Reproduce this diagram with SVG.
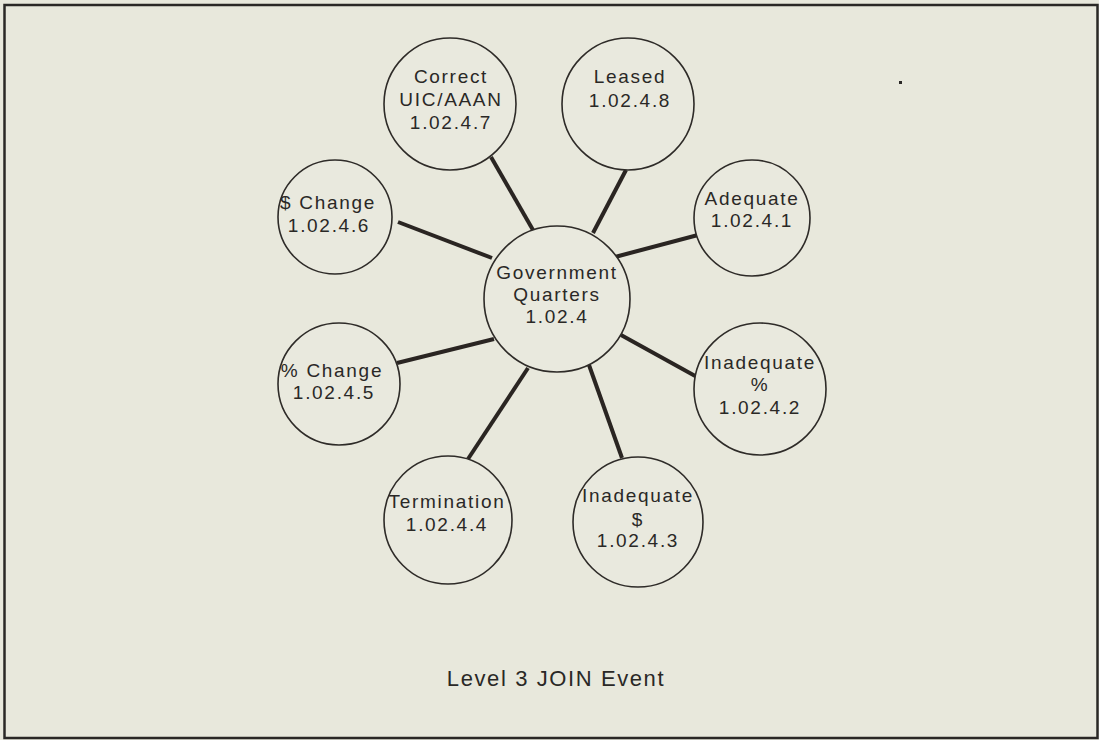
<svg xmlns="http://www.w3.org/2000/svg" width="1099" height="740" viewBox="0 0 1099 740">
<style>
.bg{fill:#e8e8dc}
.frame{fill:none;stroke:#2a2826;stroke-width:2.5}
.node circle{fill:#e9e9de;stroke:#2e2b28;stroke-width:1.6}
.node text{font-family:"Liberation Sans",Arial,sans-serif;font-size:19px;letter-spacing:1.7px;fill:#2a2826;text-anchor:middle}
#connectors line{stroke:#2a2522;stroke-width:4;stroke-linecap:butt}
.caption{font-family:"Liberation Sans",Arial,sans-serif;font-size:22px;letter-spacing:1.6px;fill:#2a2826;text-anchor:middle}
</style>
<rect class="bg" x="0" y="0" width="1099" height="740"/>
<rect class="frame" x="4.5" y="5" width="1093" height="733"/>
<rect x="899" y="81" width="3" height="3" fill="#2a2826"/>
<g id="connectors">
<line x1="491" y1="157" x2="533" y2="230"/>
<line x1="626" y1="170" x2="593" y2="233"/>
<line x1="398" y1="222" x2="492" y2="258"/>
<line x1="698" y1="235" x2="615" y2="257"/>
<line x1="397" y1="363" x2="494" y2="339"/>
<line x1="621" y1="335" x2="697" y2="377"/>
<line x1="528" y1="368" x2="468" y2="459"/>
<line x1="589" y1="365" x2="622" y2="458"/>
</g>
<g id="n_center" class="node">
<circle cx="557" cy="299" r="73"/>
<text x="557" y="279">Government</text>
<text x="557" y="301">Quarters</text>
<text x="557" y="323">1.02.4</text>
</g>
<g id="n_7" class="node">
<circle cx="450" cy="104" r="66"/>
<text x="451" y="83">Correct</text>
<text x="451" y="106">UIC/AAAN</text>
<text x="451" y="129">1.02.4.7</text>
</g>
<g id="n_8" class="node">
<circle cx="628" cy="104" r="66"/>
<text x="630" y="83">Leased</text>
<text x="630" y="107">1.02.4.8</text>
</g>
<g id="n_1" class="node">
<circle cx="752" cy="218" r="58"/>
<text x="752" y="205">Adequate</text>
<text x="752" y="227">1.02.4.1</text>
</g>
<g id="n_2" class="node">
<circle cx="760" cy="389" r="66"/>
<text x="760" y="369">Inadequate</text>
<text x="760" y="391">%</text>
<text x="760" y="414">1.02.4.2</text>
</g>
<g id="n_3" class="node">
<circle cx="638" cy="522" r="65"/>
<text x="638" y="502">Inadequate</text>
<text x="638" y="526">$</text>
<text x="638" y="547">1.02.4.3</text>
</g>
<g id="n_4" class="node">
<circle cx="448" cy="520" r="64"/>
<text x="447" y="508">Termination</text>
<text x="447" y="531">1.02.4.4</text>
</g>
<g id="n_5" class="node">
<circle cx="339" cy="384" r="61"/>
<text x="332" y="377">% Change</text>
<text x="334" y="399">1.02.4.5</text>
</g>
<g id="n_6" class="node">
<circle cx="335" cy="217" r="57"/>
<text x="328" y="209">$ Change</text>
<text x="329" y="232">1.02.4.6</text>
</g>
<text class="caption" x="556" y="686">Level 3 JOIN Event</text>
</svg>
